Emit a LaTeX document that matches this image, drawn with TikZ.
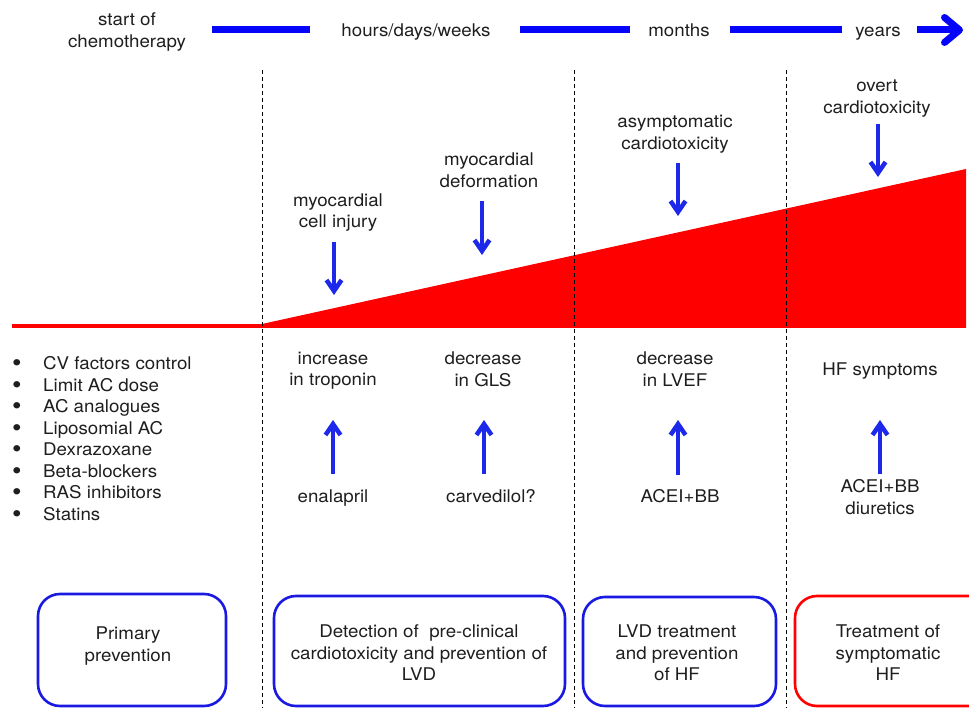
\documentclass[tikz,border=0pt]{standalone}
\usepackage{fontspec}
\setmainfont[FakeStretch=1.07]{TeX Gyre Heros}
\usetikzlibrary{arrows.meta}
\definecolor{barblue}{RGB}{5,5,250}
\definecolor{arrblue}{RGB}{30,40,235}
\definecolor{boxblue}{RGB}{25,25,225}
\definecolor{txt}{RGB}{30,30,30}
\definecolor{myred}{RGB}{255,0,0}
\newcommand{\bul}{\makebox[30pt][l]{\hspace{-1pt}\raisebox{-2.2pt}{\scalebox{1.45}{•}}}}
\begin{document}
\begin{tikzpicture}[x=1pt,y=-1pt,
  lbl/.style={text=txt,align=center,inner sep=0pt,text depth=0pt,font=\fontsize{17.5}{21.5}\selectfont},
  sl/.style={lbl,text height=12.8pt},
  bar/.style={barblue,line width=7pt},
  downarr/.style={arrblue,line width=4.5pt,-{Straight Barb[length=11pt,width=15pt]}},
  pbox/.style={draw=boxblue,line width=2.6pt,rounded corners=22pt},
  rbox/.style={draw=myred,line width=2.6pt,rounded corners=22pt},
  sep/.style={black,line width=0.8pt,dash pattern=on 4pt off 3pt}]
\useasboundingbox (0,0) rectangle (969,708);
% timeline
\node[lbl] (start) at (127,30) {start of\\chemotherapy};
\node[sl] (hours) at (416,30) {hours/days/weeks};
\node[sl] (months) at (679,30) {months};
\node[sl] (years) at (878,30) {years};
\coordinate (b1a) at (212,30); \coordinate (b1b) at (310,30);
\coordinate (b2a) at (520,30); \coordinate (b2b) at (630,30);
\coordinate (b3a) at (730,30); \coordinate (b3b) at (842,30);
\coordinate (b4a) at (917,30); \coordinate (b4b) at (963,30);
\draw[bar] (b1a) -- (b1b);
\draw[bar] (b2a) -- (b2b);
\draw[bar] (b3a) -- (b3b);
\draw[bar,-{Straight Barb[round,length=15pt,width=25pt]}] (b4a) -- (b4b);
% separators
\coordinate (s1t) at (262,70); \coordinate (s1b) at (262,708);
\coordinate (s2t) at (574,70); \coordinate (s2b) at (574,708);
\coordinate (s3t) at (786,70); \coordinate (s3b) at (786,708);
% red wedge
\coordinate (r0) at (12,326);
\coordinate (r1) at (262,326);
\coordinate (r2) at (966,169);
\coordinate (r3) at (966,328);
\coordinate (r4) at (262,328);
\fill[myred] (262,324) -- (r2) -- (r3) -- (r4) -- cycle;
\draw[myred,line width=3.5pt] (r0) -- (r1);
\draw[sep] (s1t) -- (s1b);
\draw[sep] (s2t) -- (s2b);
\draw[sep] (s3t) -- (s3b);
% upper labels and arrows
\node[lbl] (mci) at (338,210.5) {myocardial\\cell injury};
\node[lbl] (mdf) at (489,170) {myocardial\\deformation};
\node[lbl] (asc) at (675,132.5) {asymptomatic\\cardiotoxicity};
\node[lbl] (ovc) at (877,96.5) {overt\\cardiotoxicity};
\coordinate (d1a) at (334,242); \coordinate (d1b) at (334,295);
\coordinate (d2a) at (482,201); \coordinate (d2b) at (482,255);
\coordinate (d3a) at (678,163); \coordinate (d3b) at (678,216);
\coordinate (d4a) at (878,124); \coordinate (d4b) at (878,177);
\draw[downarr] (d1a) -- (d1b);
\draw[downarr] (d2a) -- (d2b);
\draw[downarr] (d3a) -- (d3b);
\draw[downarr] (d4a) -- (d4b);
% lower labels and arrows
\node[lbl] (itr) at (333,369) {increase\\in troponin};
\node[lbl] (dgl) at (483,369) {decrease\\in GLS};
\node[lbl] (dlv) at (675,369) {decrease\\in LVEF};
\node[sl] (hfs) at (880,369) {HF symptoms};
\node[sl] (ena) at (333,496) {enalapril};
\node[sl] (car) at (491,496) {carvedilol?};
\node[sl] (acb) at (680,496) {ACEI+BB};
\node[lbl] (acd) at (880,497) {ACEI+BB\\diuretics};
\coordinate (u1a) at (333,474); \coordinate (u1b) at (333,420);
\coordinate (u2a) at (484,474); \coordinate (u2b) at (484,420);
\coordinate (u3a) at (678,475); \coordinate (u3b) at (678,420);
\coordinate (u4a) at (880,474); \coordinate (u4b) at (880,420);
\draw[downarr] (u1a) -- (u1b);
\draw[downarr] (u2a) -- (u2b);
\draw[downarr] (u3a) -- (u3b);
\draw[downarr] (u4a) -- (u4b);
% bullet list
\node[lbl,align=left,anchor=west] (plist) at (13,438.5) {%
\bul CV factors control\\
\bul Limit AC dose\\
\bul AC analogues\\
\bul Liposomial AC\\
\bul Dexrazoxane\\
\bul Beta-blockers\\
\bul RAS inhibitors\\
\bul Statins};
% boxes
\draw[pbox] (38,594) rectangle (226,706);
\draw[pbox] (274,596) rectangle (565,706);
\draw[pbox] (583,597) rectangle (776,706);
\draw[rbox] (795,596) rectangle (1000,706);
\node[lbl] (t1) at (128,644) {Primary\\prevention};
\node[lbl] (t2) at (419,653) {Detection of \ pre-clinical\\cardiotoxicity and prevention of\\LVD};
\node[lbl] (t3) at (677,653) {LVD treatment\\and prevention\\of HF};
\node[lbl] (t4) at (888,653) {Treatment of\\symptomatic\\HF};
\end{tikzpicture}
\end{document}
